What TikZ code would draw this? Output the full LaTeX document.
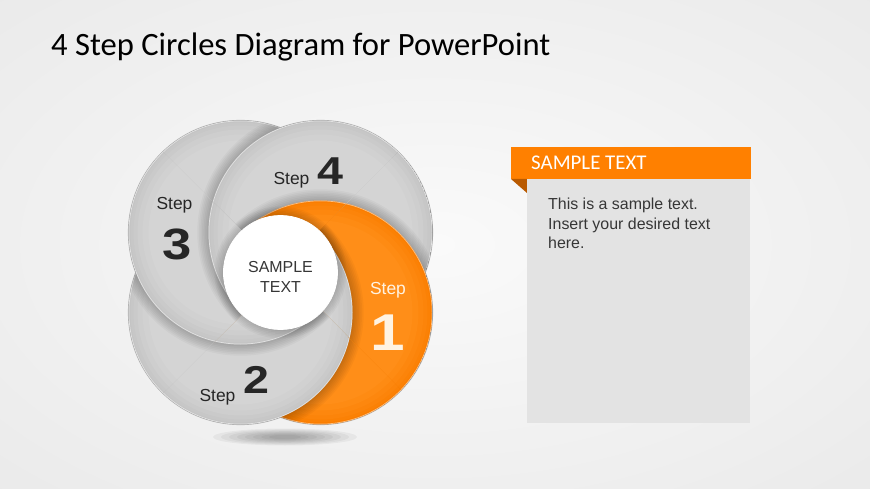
\documentclass[tikz,border=0pt]{standalone}
\usepackage{fontspec}
\setmainfont{Liberation Sans}
\newfontfamily\titlefont{Carlito}
\newfontfamily\numfont{Liberation Sans Bold}[FakeStretch=1.2]
\usetikzlibrary{positioning}

\definecolor{bgIn}{HTML}{FAFAFA}
\definecolor{bgOut}{HTML}{E4E4E4}
\definecolor{stepOrange}{HTML}{FA7D00}
\definecolor{foldOrange}{HTML}{B95A00}
\definecolor{headOrange}{HTML}{FF8000}
\definecolor{orangeRim}{HTML}{FF8E18}
\definecolor{grayMid}{HTML}{C4C4C4}
\definecolor{grayRim}{HTML}{D4D4D4}
\definecolor{grayEdge}{HTML}{B4B4B4}
\definecolor{centerIn}{HTML}{FFFFFF}
\definecolor{centerOut}{HTML}{F0F0F0}
\definecolor{boxGray}{HTML}{E3E3E3}
\definecolor{labelText}{HTML}{262626}
\definecolor{bodyText}{HTML}{363636}
\definecolor{stepOneText}{HTML}{FFF3E2}

\pgfdeclareradialshading{backshade}{\pgfpoint{0bp}{0bp}}{color(0bp)=(bgIn); color(50bp)=(bgOut)}
\pgfdeclareradialshading{centershade}{\pgfpoint{0bp}{0bp}}{color(0bp)=(centerIn); color(38bp)=(centerIn); color(50bp)=(centerOut)}

\tikzset{
  disk1/.style={rimcolor=orangeRim, facecolor=stepOrange},
  disk2/.style={rimcolor=grayRim, facecolor=grayMid},
  disk3/.style={rimcolor=grayRim, facecolor=grayMid},
  disk4/.style={rimcolor=grayRim, facecolor=grayMid},
  rimcolor/.code={\colorlet{diskrim}{#1}},
  facecolor/.code={\colorlet{diskface}{#1}}
}
\newcommand\stepdisk[1]{%
  \foreach \s in {1,...,7}
    \fill[black,opacity=0.03] (c#1) circle ({112+1.6*\s});
  \begin{scope}[disk#1]
    \foreach \r/\t in {112/100,110/80,107/60,103/40,98/20,92/0}
      \fill[diskface!\t!diskrim] (c#1) circle (\r);
  \end{scope}
  \draw[white,opacity=0.5,line width=0.7] (c#1) circle (111.6);
}
\newcommand\clipdisks{\clip (c1) circle (112) (c2) circle (112) (c3) circle (112) (c4) circle (112);}

\begin{document}
\begin{tikzpicture}[x=1bp,y=-1bp,
  steptext/.style={anchor=base, inner sep=0, text=labelText, font=\fontsize{17.5}{18}\selectfont},
  stepnum/.style={anchor=base, inner sep=0, text=labelText, font=\numfont\fontsize{#1}{#1}\selectfont},
  bodytext/.style={anchor=base west, inner sep=0, text=bodyText, font=\fontsize{16}{16}\selectfont},
  centertext/.style={anchor=base, inner sep=0, text=bodyText, font=\fontsize{16}{16}\selectfont}]
\useasboundingbox (0,0) rectangle (870,489);
\shade[shading=backshade] (0,0) rectangle (870,489);

\coordinate (O) at (280.5,272.5);
\coordinate (c1) at (320.5,312.5);
\coordinate (c2) at (240.5,312.5);
\coordinate (c3) at (240.5,232.5);
\coordinate (c4) at (320.5,232.5);
\coordinate (ground) at (285,437);

\foreach \k in {0,...,7}
  \fill[black,opacity=0.045] (ground) ellipse ({72-8*\k} and {8.5-0.9*\k});

\fill[grayEdge] (c1) circle (112.6) (c2) circle (112.6) (c3) circle (112.6) (c4) circle (112.6);

\begin{scope}
  \clip ([yshift=-3bp]O) -- ++(-400,-400) -- ++(800,0) -- cycle;
  \clipdisks
  \stepdisk{2}\stepdisk{3}\stepdisk{4}\stepdisk{1}
\end{scope}
\begin{scope}
  \clip ([xshift=-3bp]O) -- ++(400,-400) -- ++(0,800) -- cycle;
  \clipdisks
  \stepdisk{3}\stepdisk{4}\stepdisk{1}\stepdisk{2}
\end{scope}
\begin{scope}
  \clip ([yshift=3bp]O) -- ++(400,400) -- ++(-800,0) -- cycle;
  \clipdisks
  \stepdisk{4}\stepdisk{1}\stepdisk{2}\stepdisk{3}
\end{scope}
\begin{scope}
  \clip ([xshift=3bp]O) -- ++(-400,400) -- ++(0,-800) -- cycle;
  \clipdisks
  \stepdisk{1}\stepdisk{2}\stepdisk{3}\stepdisk{4}
\end{scope}

\begin{scope}
  \clipdisks
  \foreach \s in {1,...,6}
    \fill[black,opacity=0.03] (O) circle ({57+1.5*\s});
\end{scope}
\shade[shading=centershade] (O) circle (57);
\draw[white,line width=0.8] (O) circle (57);

\node[centertext] (center1) at (280.5,273) {SAMPLE};
\node[centertext, below=19bp of center1.base, anchor=base] (center2) {TEXT};

\node[steptext] (step4) at (291.5,185) {Step};
\node[stepnum=39] (num4) at (330.5,185) {4};
\node[steptext] (step3) at (174.5,209.5) {Step};
\node[stepnum=44] (num3) at (177.5,260) {3};
\node[steptext] (step2) at (217.5,401) {Step};
\node[stepnum=39] (num2) at (256.5,393) {2};
\node[steptext, text=stepOneText] (step1) at (388,294.5) {Step};
\node[stepnum=52, text=stepOneText] (num1) at (387.5,350) {1};

\fill[headOrange] (511,147) rectangle (751,179);
\fill[foldOrange] (511,179) -- (527,179) -- (527,193) -- cycle;
\fill[boxGray] (527,179) rectangle (750,423);

\node[anchor=base west, inner sep=0, text=white, font=\titlefont\fontsize{21}{21}\selectfont] (boxtitle) at (531,170) {SAMPLE TEXT};
\node[bodytext] (line1) at (548,210) {This is a sample text.};
\node[bodytext, below=19.5bp of line1.base west, anchor=base west] (line2) {Insert your desired text};
\node[bodytext, below=19.5bp of line2.base west, anchor=base west] (line3) {here.};

\node[anchor=base west, inner sep=0, font=\titlefont\fontsize{32.7}{33}\selectfont] (title) at (51,56) {4 Step Circles Diagram for PowerPoint};
\end{tikzpicture}
\end{document}
